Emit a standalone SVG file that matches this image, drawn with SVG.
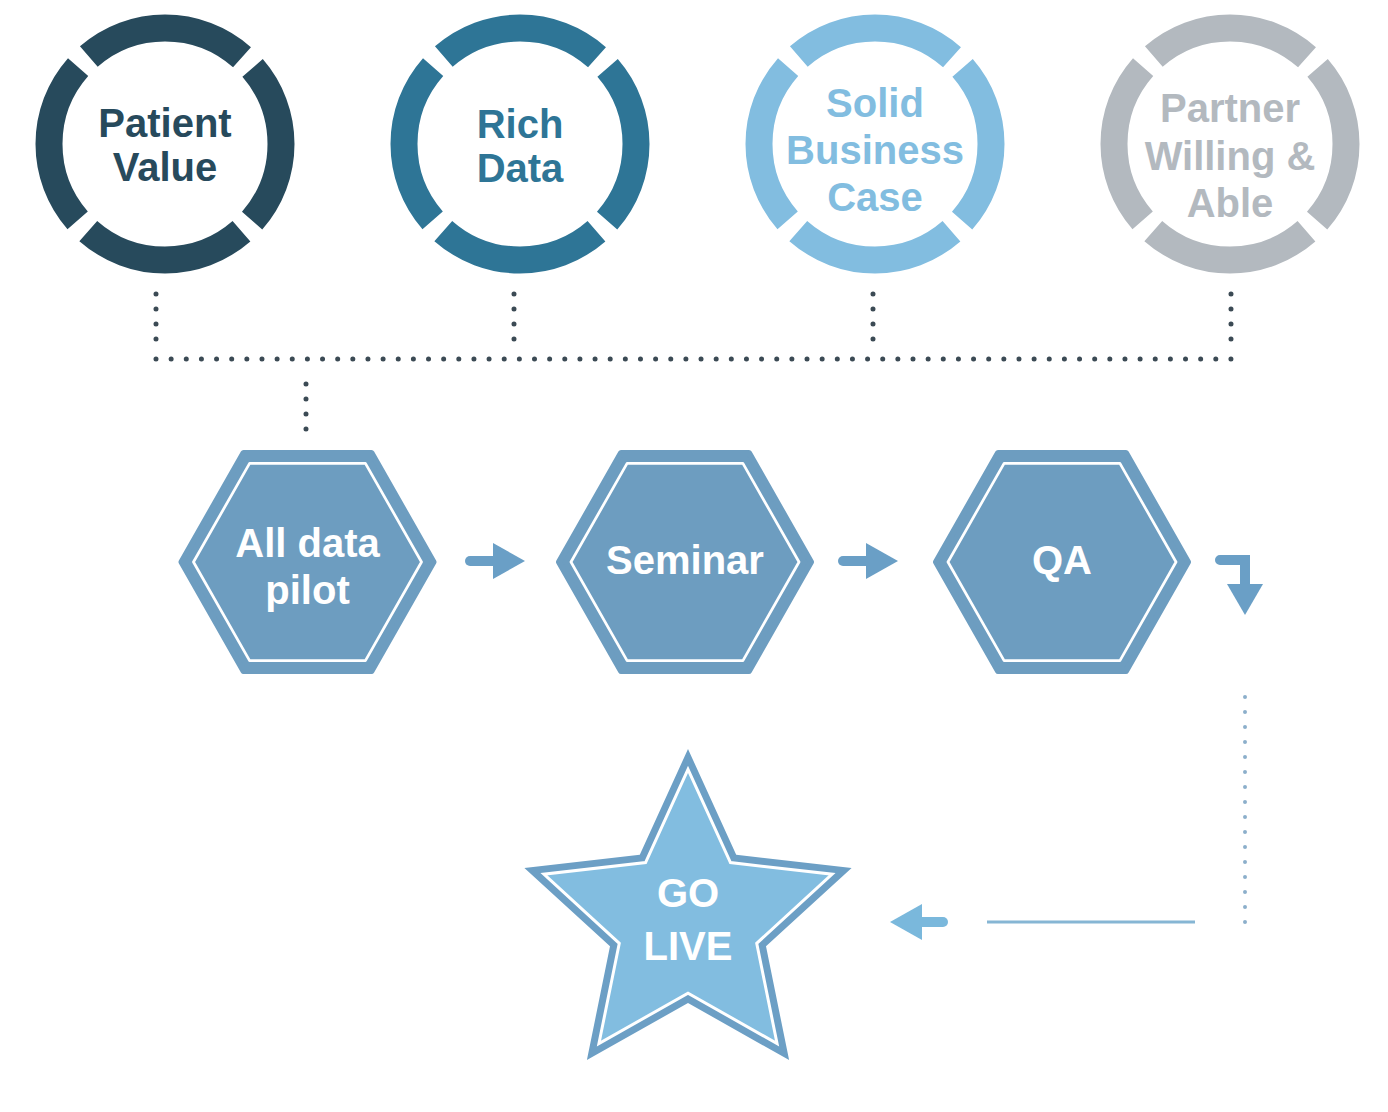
<svg xmlns="http://www.w3.org/2000/svg" width="1388" height="1112" viewBox="0 0 1388 1112">
  <style>
    .ring { fill: none; stroke-width: 27; stroke-dasharray: 167.21 15; stroke-dashoffset: 83.61; }
    .ctext { font-family: "Liberation Sans", Arial, sans-serif; font-weight: bold; font-size: 40px; text-anchor: middle; }
    .wtext { font-family: "Liberation Sans", Arial, sans-serif; font-weight: bold; font-size: 40px; text-anchor: middle; fill: #ffffff; }
    .hexout { fill: #6d9dc0; stroke: #6d9dc0; stroke-width: 6; stroke-linejoin: round; }
    .hexin { fill: #6d9dc0; stroke: #ffffff; stroke-width: 3; stroke-linejoin: round; }
    .dots { fill: none; stroke: #3b4a54; stroke-width: 5; stroke-linecap: round; }
    .ldots { fill: none; stroke: #8cafcb; stroke-width: 4; stroke-linecap: round; stroke-dasharray: 0 15; }
    .shaft { fill: none; stroke: #6a9fc6; stroke-width: 10; stroke-linecap: round; }
    .head { fill: #6a9fc6; }
  </style>
  <defs>
    <polygon id="hex" points="-126,0 -64,-109 64,-109 126,0 64,109 -64,109"/>
    <polygon id="star" points="0,-172 48.2,-66.3 163.6,-53.1 78,25.3 101.1,139.1 0,82 -101.1,139.1 -78,25.3 -163.6,-53.1 -48.2,-66.3"/>
  </defs>
  <rect width="1388" height="1112" fill="#ffffff"/>

  <g id="patient-value">
    <circle class="ring" cx="165" cy="144" r="116" stroke="#274a5c"/>
    <text class="ctext" x="165" y="137" fill="#274a5c">Patient</text>
    <text class="ctext" x="165" y="181" fill="#274a5c">Value</text>
  </g>
  <g id="rich-data">
    <circle class="ring" cx="520" cy="144" r="116" stroke="#2e7596"/>
    <text class="ctext" x="520" y="138" fill="#2e7596">Rich</text>
    <text class="ctext" x="520" y="182" fill="#2e7596">Data</text>
  </g>
  <g id="solid-business-case">
    <circle class="ring" cx="875" cy="144" r="116" stroke="#82bde0"/>
    <text class="ctext" x="875" y="117" fill="#82bde0">Solid</text>
    <text class="ctext" x="875" y="164" fill="#82bde0">Business</text>
    <text class="ctext" x="875" y="211" fill="#82bde0">Case</text>
  </g>
  <g id="partner-willing-able">
    <circle class="ring" cx="1230" cy="144" r="116" stroke="#b3b9bf"/>
    <text class="ctext" x="1230" y="122" fill="#b3b9bf">Partner</text>
    <text class="ctext" x="1230" y="170" fill="#b3b9bf">Willing &amp;</text>
    <text class="ctext" x="1230" y="217" fill="#b3b9bf">Able</text>
  </g>

  <g id="all-data-pilot">
    <use href="#hex" class="hexout" transform="translate(307.5,562)"/>
    <use href="#hex" class="hexin" transform="translate(307.5,562) scale(0.905)"/>
    <text class="wtext" x="307.5" y="557">All data</text>
    <text class="wtext" x="307.5" y="604">pilot</text>
  </g>
  <g id="seminar">
    <use href="#hex" class="hexout" transform="translate(685,562)"/>
    <use href="#hex" class="hexin" transform="translate(685,562) scale(0.905)"/>
    <text class="wtext" x="685" y="574">Seminar</text>
  </g>
  <g id="qa">
    <use href="#hex" class="hexout" transform="translate(1062,562)"/>
    <use href="#hex" class="hexin" transform="translate(1062,562) scale(0.905)"/>
    <text class="wtext" x="1062" y="574">QA</text>
  </g>

  <g id="go-live">
    <use href="#star" fill="#6c9fc5" transform="translate(688,921)"/>
    <use href="#star" fill="#82bde0" stroke="#ffffff" stroke-width="3.4" transform="translate(688,921) scale(0.881)"/>
    <text class="wtext" x="688" y="907" font-size="37">GO</text>
    <text class="wtext" x="688" y="960" font-size="37">LIVE</text>
  </g>

  <g id="connectors">
    <line class="dots" x1="156" y1="294" x2="156" y2="340" stroke-dasharray="0 15"/>
    <line class="dots" x1="514" y1="294" x2="514" y2="340" stroke-dasharray="0 15"/>
    <line class="dots" x1="873" y1="294" x2="873" y2="340" stroke-dasharray="0 15"/>
    <line class="dots" x1="1231" y1="294" x2="1231" y2="340" stroke-dasharray="0 15"/>
    <line class="dots" x1="156" y1="359" x2="1232" y2="359" stroke-dasharray="0 15.14"/>
    <line class="dots" x1="306" y1="384" x2="306" y2="430" stroke-dasharray="0 15"/>

    <line class="shaft" x1="470" y1="561" x2="497" y2="561"/>
    <polygon class="head" points="493,543 525,561 493,579"/>
    <line class="shaft" x1="843" y1="561" x2="870" y2="561"/>
    <polygon class="head" points="866,543 898,561 866,579"/>

    <path class="shaft" d="M1220,560 H1245 V590" stroke-linejoin="miter"/>
    <polygon class="head" points="1227,584 1263,584 1245,615"/>

    <line class="ldots" x1="1245" y1="697" x2="1245" y2="923"/>
    <line x1="987" y1="922" x2="1195" y2="922" stroke="#86b6d4" stroke-width="3"/>
    <line x1="918" y1="922" x2="943" y2="922" stroke="#7ab8dc" stroke-width="10" stroke-linecap="round"/>
    <polygon points="922,904 890,922 922,940" fill="#7ab8dc"/>
  </g>
</svg>
